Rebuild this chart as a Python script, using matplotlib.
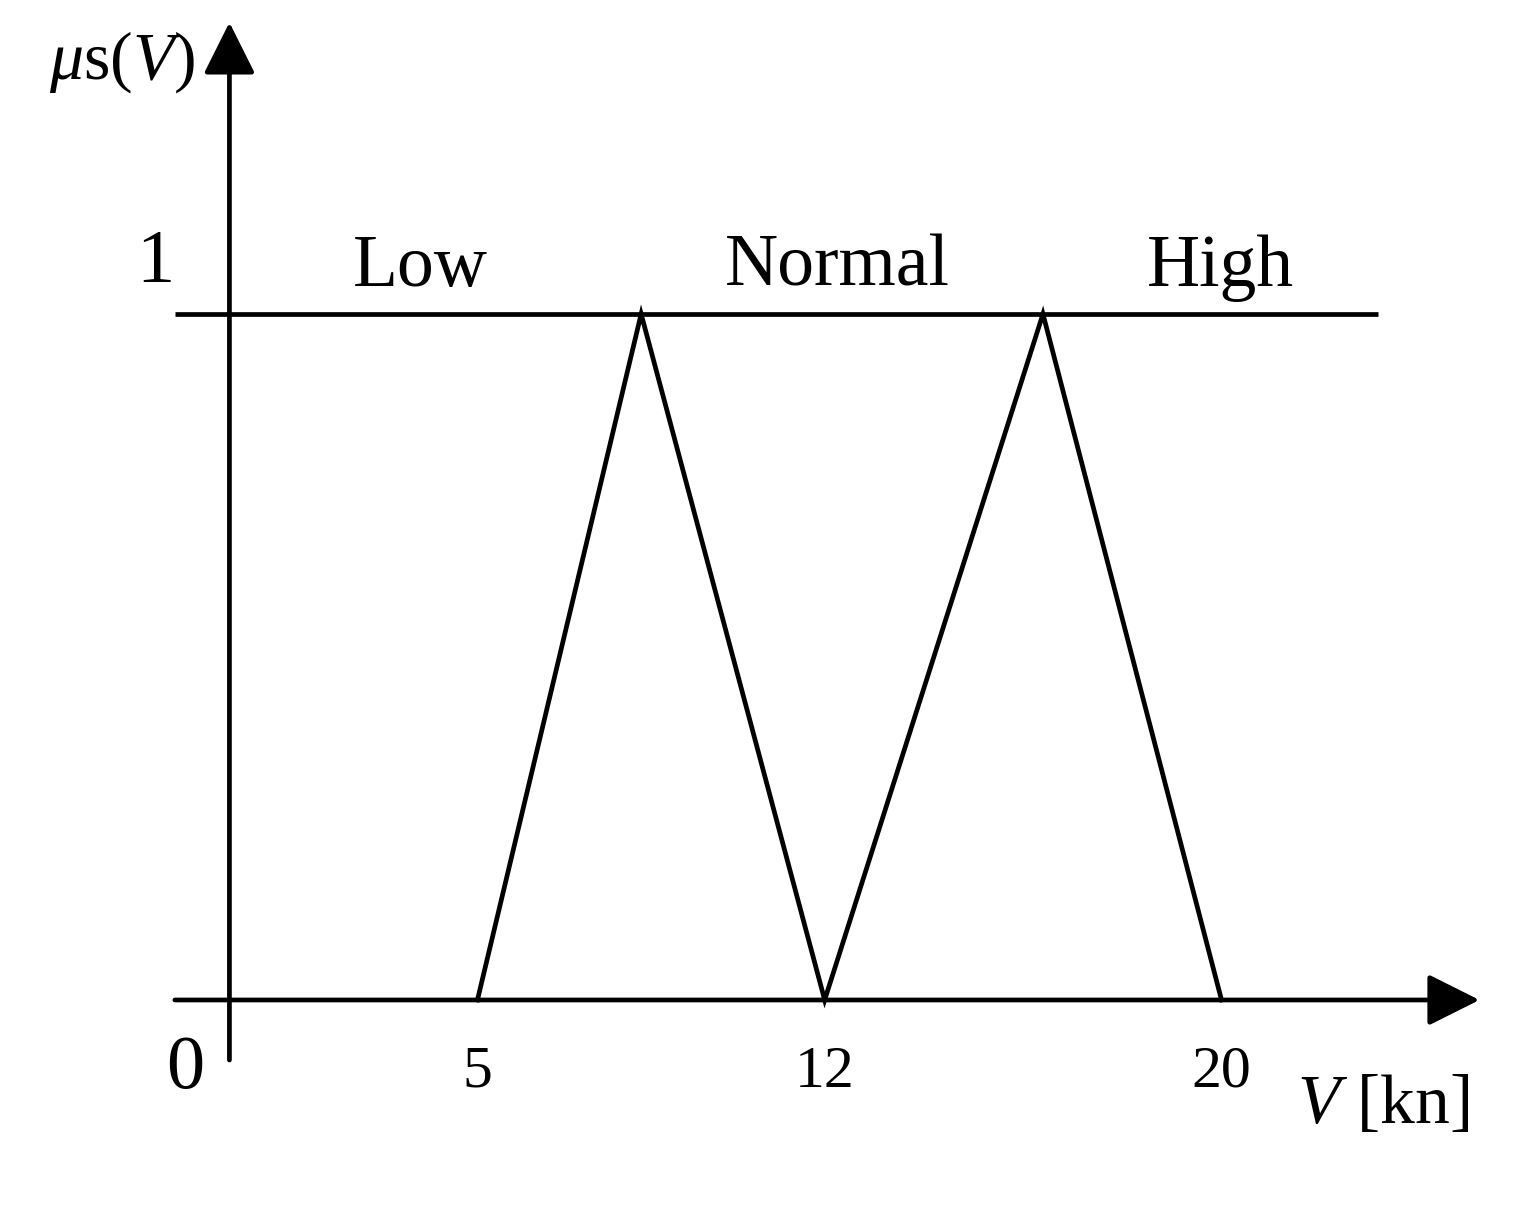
import matplotlib.pyplot as plt

plt.rcParams['font.family'] = ['Liberation Serif', 'DejaVu Serif']
plt.rcParams['mathtext.fontset'] = 'custom'
plt.rcParams['mathtext.rm'] = 'Liberation Serif'
plt.rcParams['mathtext.it'] = 'Liberation Serif:italic'

# membership function vertices (speed in kn, membership degree)
V_points = [5, 8.3, 12, 16.4, 20]
mu_points = [0, 1, 0, 1, 0]
tick_values = [5, 12, 20]
set_names = ['Low', 'Normal', 'High']
set_x = [3.84, 12.25, 19.97]

fig = plt.figure(figsize=(15.39, 12.11), dpi=100)
ax = fig.add_axes([0, 0, 1, 1])
ax.set_xlim(-4.625, 26.40)
ax.set_ylim(-0.3076, 1.4577)
ax.axis('off')

lw = 3.4
# axes with arrows
ax.annotate('', xy=(0, 1.425), xytext=(0, -0.0875),
            arrowprops=dict(arrowstyle='-|>', color='black', lw=lw,
                            mutation_scale=80, shrinkA=0, shrinkB=0))
ax.annotate('', xy=(25.2, 0), xytext=(-1.1, 0),
            arrowprops=dict(arrowstyle='-|>', color='black', lw=lw,
                            mutation_scale=80, shrinkA=0, shrinkB=0))
# mu = 1 line
ax.plot([-1.1, 23.16], [1, 1], color='black', lw=lw, solid_capstyle='butt')

# membership triangles
ax.plot(V_points, mu_points, color='black', lw=lw, solid_joinstyle='miter')

for name, x in zip(set_names, set_x):
    ax.text(x, 1.0 + 28 / 686, name, ha='center', va='baseline', fontsize=53)

for v in tick_values:
    ax.text(v, -73 / 686, str(v), ha='center', va='center', fontsize=43)

ax.text(-1.5, 1.0 + 50 / 686, '1', ha='center', va='center', fontsize=55)
ax.text(-0.9, -70 / 686, '0', ha='center', va='center', fontsize=55)

ax.text(-0.69, (1000 - 62) / 686, r'$\mu$s$(V)$', ha='right', va='center', fontsize=49)
ax.text(23.26, -106 / 686, r'$V$ [kn]', ha='center', va='center', fontsize=50)

fig.savefig('out.png', dpi=100, facecolor='white')
